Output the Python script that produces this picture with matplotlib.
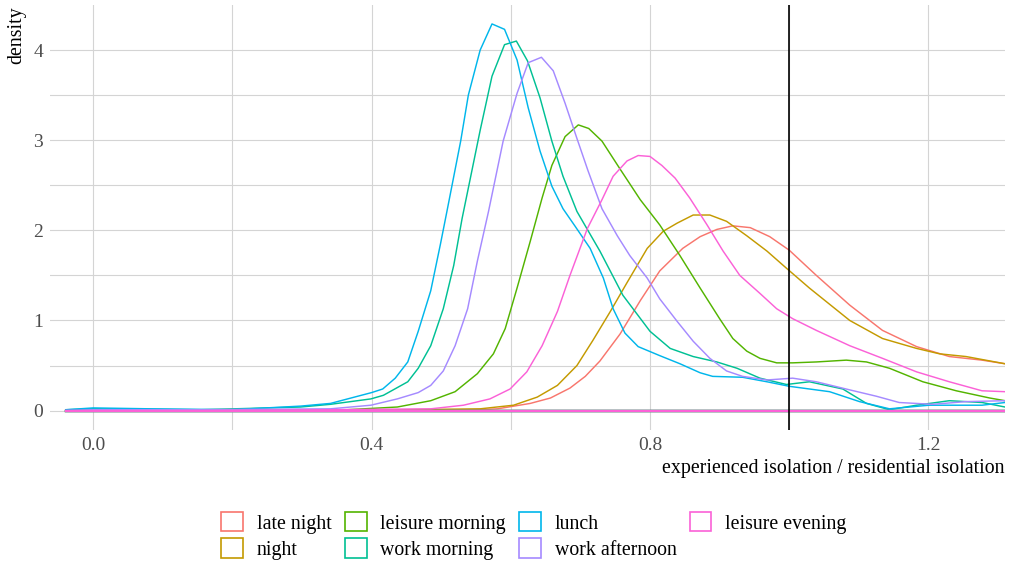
import matplotlib.pyplot as plt
from matplotlib.patches import Patch

plt.rcParams['font.family'] = ['Liberation Serif', 'DejaVu Serif']

series = ['late night', 'night', 'leisure morning', 'work morning',
          'lunch', 'work afternoon', 'leisure evening']
colors = ['#F8766D', '#C49A00', '#53B400', '#00C094',
          '#00B6EB', '#A58AFF', '#FB61D7']

# density curves (x = experienced / residential isolation)
late_night_x = [-0.039, 0.155, 0.341, 0.556, 0.581, 0.628, 0.657, 0.685, 0.707, 0.728,
                0.757, 0.786, 0.814, 0.847, 0.872, 0.896, 0.919, 0.944, 0.972, 1.0,
                1.039, 1.087, 1.134, 1.183, 1.23, 1.277, 1.31]
late_night_y = [0.0, 0.0, 0.0, 0.01, 0.02, 0.08, 0.14, 0.25, 0.38, 0.55,
                0.85, 1.22, 1.55, 1.8, 1.93, 2.01, 2.05, 2.03, 1.93, 1.78,
                1.5, 1.17, 0.89, 0.71, 0.6, 0.56, 0.52]

night_x = [-0.039, 0.155, 0.341, 0.556, 0.604, 0.638, 0.667, 0.695, 0.718, 0.743,
           0.767, 0.796, 0.819, 0.839, 0.862, 0.886, 0.91, 0.939, 0.968, 0.996,
           1.029, 1.087, 1.134, 1.183, 1.216, 1.254, 1.31]
night_y = [0.0, 0.0, 0.0, 0.02, 0.06, 0.15, 0.28, 0.5, 0.78, 1.1,
           1.42, 1.8, 1.99, 2.08, 2.17, 2.17, 2.1, 1.94, 1.77, 1.58,
           1.36, 1.0, 0.8, 0.69, 0.63, 0.6, 0.52]

leisure_morning_x = [-0.039, 0.155, 0.341, 0.437, 0.485, 0.52, 0.552, 0.575, 0.592, 0.609,
                     0.628, 0.645, 0.659, 0.678, 0.697, 0.712, 0.731, 0.757, 0.786, 0.814,
                     0.843, 0.872, 0.9, 0.919, 0.939, 0.958, 0.982, 1.005, 1.039, 1.082,
                     1.111, 1.144, 1.192, 1.24, 1.288, 1.31]
leisure_morning_y = [0.0, 0.0, 0.0, 0.04, 0.11, 0.21, 0.41, 0.63, 0.91, 1.36,
                     1.88, 2.36, 2.72, 3.04, 3.17, 3.13, 2.99, 2.68, 2.34, 2.06,
                     1.72, 1.36, 1.02, 0.8, 0.66, 0.58, 0.53, 0.53, 0.54, 0.56,
                     0.54, 0.47, 0.32, 0.22, 0.14, 0.11]

work_morning_x = [-0.039, 0.0, 0.155, 0.298, 0.341, 0.399, 0.417, 0.452, 0.467, 0.485,
                  0.503, 0.518, 0.53, 0.556, 0.573, 0.591, 0.608, 0.624, 0.642, 0.659,
                  0.675, 0.695, 0.728, 0.761, 0.8, 0.829, 0.862, 0.896, 0.925, 0.958,
                  0.996, 1.029, 1.077, 1.111, 1.144, 1.183, 1.23, 1.277, 1.31]
work_morning_y = [0.01, 0.02, 0.01, 0.04, 0.07, 0.13, 0.17, 0.32, 0.47, 0.72,
                  1.13, 1.61, 2.13, 3.11, 3.71, 4.06, 4.1, 3.88, 3.47, 2.99,
                  2.6, 2.21, 1.77, 1.28, 0.88, 0.69, 0.6, 0.54, 0.47, 0.36,
                  0.29, 0.32, 0.24, 0.08, 0.01, 0.06, 0.11, 0.09, 0.04]

lunch_x = [-0.039, 0.0, 0.083, 0.199, 0.298, 0.341, 0.4, 0.416, 0.434, 0.452,
           0.467, 0.485, 0.499, 0.509, 0.528, 0.539, 0.556, 0.573, 0.591, 0.609,
           0.625, 0.642, 0.659, 0.675, 0.692, 0.714, 0.733, 0.747, 0.764, 0.783,
           0.814, 0.843, 0.872, 0.89, 0.933, 0.968, 1.0, 1.058, 1.101, 1.144,
           1.201, 1.277, 1.31]
lunch_y = [0.01, 0.03, 0.02, 0.01, 0.05, 0.08, 0.2, 0.24, 0.36, 0.54,
           0.88, 1.33, 1.85, 2.24, 2.99, 3.5, 4.0, 4.29, 4.23, 3.89,
           3.36, 2.88, 2.49, 2.24, 2.05, 1.8, 1.47, 1.13, 0.86, 0.71,
           0.61, 0.52, 0.42, 0.38, 0.37, 0.32, 0.27, 0.21, 0.1, 0.02,
           0.06, 0.06, 0.09]

work_afternoon_x = [-0.039, 0.0, 0.155, 0.341, 0.399, 0.437, 0.467, 0.485, 0.503, 0.52,
                    0.538, 0.552, 0.568, 0.589, 0.609, 0.625, 0.644, 0.661, 0.678, 0.695,
                    0.711, 0.731, 0.753, 0.771, 0.796, 0.814, 0.839, 0.862, 0.886, 0.91,
                    0.933, 0.968, 1.005, 1.039, 1.087, 1.125, 1.158, 1.206, 1.254, 1.31]
work_afternoon_y = [0.0, 0.01, 0.01, 0.02, 0.06, 0.13, 0.2, 0.28, 0.44, 0.72,
                    1.13, 1.66, 2.21, 2.99, 3.52, 3.86, 3.92, 3.77, 3.41, 3.02,
                    2.66, 2.24, 1.94, 1.72, 1.47, 1.24, 0.99, 0.77, 0.58, 0.44,
                    0.38, 0.34, 0.36, 0.32, 0.23, 0.16, 0.09, 0.07, 0.1, 0.11]

leisure_evening_x = [-0.039, 0.155, 0.341, 0.485, 0.532, 0.57, 0.599, 0.623, 0.645, 0.667,
                     0.685, 0.71, 0.731, 0.747, 0.767, 0.783, 0.8, 0.817, 0.836, 0.857,
                     0.882, 0.905, 0.929, 0.958, 0.982, 1.005, 1.039, 1.087, 1.134, 1.183,
                     1.23, 1.277, 1.31]
leisure_evening_y = [0.0, 0.0, 0.01, 0.02, 0.06, 0.13, 0.24, 0.43, 0.72, 1.1,
                     1.5, 2.02, 2.34, 2.6, 2.77, 2.83, 2.82, 2.72, 2.58, 2.36,
                     2.06, 1.77, 1.5, 1.3, 1.13, 1.02, 0.89, 0.72, 0.58, 0.43,
                     0.32, 0.22, 0.21]

curves = [(late_night_x, late_night_y), (night_x, night_y),
          (leisure_morning_x, leisure_morning_y), (work_morning_x, work_morning_y),
          (lunch_x, lunch_y), (work_afternoon_x, work_afternoon_y),
          (leisure_evening_x, leisure_evening_y)]

W, H = 1009, 569
fig = plt.figure(figsize=(W / 100, H / 100), dpi=100)
ax = fig.add_axes([50 / W, 1 - 430 / H, 955 / W, 425 / H])

grid_c = '#D4D4D4'
for v in [0.0, 0.2, 0.4, 0.6, 0.8, 1.0, 1.2]:
    ax.axvline(v, color=grid_c, lw=0.8, zorder=0)
for v in [0, 0.5, 1, 1.5, 2, 2.5, 3, 3.5, 4]:
    ax.axhline(v, color=grid_c, lw=0.8, zorder=0)

for (xs, ys), c in zip(curves, colors):
    ax.plot([xs[0], xs[-1]], [0, 0], color=c, lw=1.6, zorder=2)
    ax.plot(xs, ys, color=c, lw=1.05, zorder=2)

ax.axvline(1.0, color='black', lw=1.2, zorder=3)

ax.set_xlim(-0.062, 1.31)
ax.set_ylim(-0.215, 4.5)
ax.set_xticks([0.0, 0.4, 0.8, 1.2])
ax.set_xticklabels(['0.0', '0.4', '0.8', '1.2'])
ax.set_yticks([0, 1, 2, 3, 4])
ax.tick_params(length=0, labelsize=14, labelcolor='#4D4D4D', pad=5)
for s in ax.spines.values():
    s.set_visible(False)

fig.text(1005 / W, 1 - 469 / H, 'experienced isolation / residential isolation',
         ha='right', va='center', fontsize=14.3)
fig.text(17 / W, 1 - 6 / H, 'density', rotation=90, ha='center', va='top', fontsize=14.3)

handles = [Patch(facecolor='white', edgecolor=c, lw=1.2) for c in colors]
fig.legend(handles, series, loc='center', bbox_to_anchor=(534 / W, 1 - 536 / H),
           ncol=4, frameon=False, fontsize=14.3, handlelength=1.1, handleheight=1.1,
           handletextpad=0.7, columnspacing=0.65, labelspacing=0.25, borderpad=0)

fig.savefig('out.png', dpi=100)
